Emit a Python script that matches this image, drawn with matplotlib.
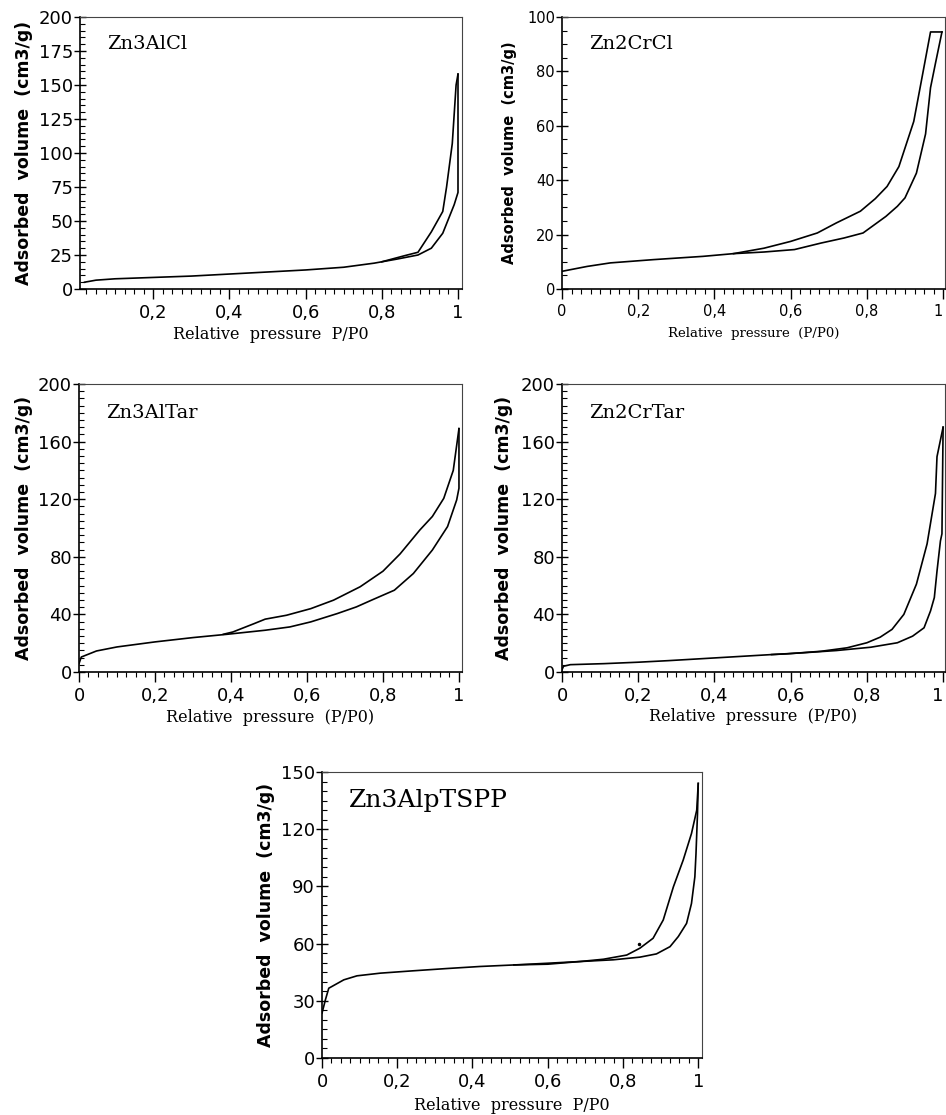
import matplotlib
matplotlib.use("Agg")
import matplotlib.pyplot as plt
from matplotlib.ticker import FixedLocator, MultipleLocator

# ---------------- data ----------------
# Zn3AlCl
alcl_ads_x = [0.02, 0.05, 0.1, 0.2, 0.3, 0.4, 0.5, 0.6, 0.7, 0.78, 0.84, 0.895, 0.93, 0.96, 0.99, 1.0, 1.0]
alcl_ads_y = [5, 6.5, 7.5, 8.5, 9.5, 11, 12.5, 14, 16, 19, 22, 25, 30, 41, 62, 71, 158]
alcl_des_x = [1.0, 0.995, 0.985, 0.97, 0.96, 0.93, 0.895, 0.86, 0.8]
alcl_des_y = [158, 150, 107, 75, 57, 42, 27, 24.5, 20]

# Zn2CrCl
crcl_ads_x = [0.0, 0.066, 0.127, 0.24, 0.37, 0.45, 0.53, 0.61, 0.68, 0.74, 0.79, 0.85, 0.88, 0.90, 0.93, 0.954, 0.967, 0.98, 0.997]
crcl_ads_y = [6.5, 8.3, 9.6, 10.8, 12, 13, 13.6, 14.5, 16.9, 18.75, 20.6, 26.7, 30.4, 33.5, 42.6, 57, 74, 83, 94.5]
crcl_des_x = [0.997, 0.967, 0.945, 0.923, 0.884, 0.853, 0.822, 0.783, 0.72, 0.67, 0.6, 0.53, 0.45]
crcl_des_y = [94.5, 94.5, 78, 61.6, 45, 37.7, 33.2, 28.6, 24.3, 20.6, 17.5, 15, 13]

# Zn3AlTar
altar_ads_x = [0.0, 0.006, 0.046, 0.1, 0.2, 0.3, 0.39, 0.49, 0.555, 0.61, 0.68, 0.73, 0.77, 0.83, 0.88, 0.93, 0.97, 0.994, 1.0, 1.0]
altar_ads_y = [5.8, 10.4, 14.6, 17.4, 20.9, 23.9, 26.2, 29, 31.3, 34.8, 40.6, 45.2, 49.9, 56.8, 68.4, 84.7, 101, 119.5, 127.6, 169]
altar_des_x = [1.0, 0.985, 0.96, 0.93, 0.897, 0.845, 0.80, 0.74, 0.67, 0.61, 0.546, 0.49, 0.46, 0.405, 0.38]
altar_des_y = [169, 140, 120.6, 108, 98.6, 82, 70, 59.2, 49.9, 44, 39.4, 36.7, 33.5, 27.8, 26.2]

# Zn2CrTar
crtar_ads_x = [0.0, 0.004, 0.022, 0.11, 0.2, 0.28, 0.37, 0.46, 0.55, 0.63, 0.72, 0.81, 0.88, 0.92, 0.95, 0.967, 0.977, 0.984, 0.993, 0.997, 1.0]
crtar_ads_y = [1.6, 4, 5.1, 5.8, 6.8, 7.9, 9.3, 10.7, 12.1, 13.3, 14.9, 17.2, 20.3, 24.9, 30.7, 42.4, 51.7, 70, 91, 96, 170]
crtar_des_x = [1.0, 0.984, 0.98, 0.958, 0.93, 0.897, 0.866, 0.835, 0.80, 0.748, 0.68, 0.59, 0.55]
crtar_des_y = [170, 149.5, 124, 89, 61, 40, 29.6, 24.2, 20.3, 16.8, 14.4, 12.6, 12.1]

# Zn3AlpTSPP
tspp_ads_x = [0.0, 0.009, 0.018, 0.058, 0.093, 0.155, 0.24, 0.33, 0.42, 0.51, 0.6, 0.686, 0.774, 0.845, 0.889, 0.925, 0.947, 0.969, 0.982, 0.991, 0.994, 0.998, 1.0]
tspp_ads_y = [23.5, 30.5, 36.6, 41, 43.1, 44.5, 45.7, 46.9, 48, 48.8, 49.7, 50.6, 51.5, 52.9, 54.6, 58.4, 63.7, 70.6, 81, 95, 107, 128, 144]
tspp_des_x = [1.0, 0.996, 0.982, 0.96, 0.934, 0.907, 0.88, 0.845, 0.81, 0.748, 0.686, 0.6, 0.51]
tspp_des_y = [144, 130, 117.7, 103.8, 89.8, 72.4, 62.8, 57.6, 54, 51.8, 50.6, 49.2, 48.8]
tspp_dot_x = [0.843]
tspp_dot_y = [59.8]

x_ticks = [0, 0.2, 0.4, 0.6, 0.8, 1.0]
x_ticklabels = ["0", "0,2", "0,4", "0,6", "0,8", "1"]

# ---------------- layout ----------------
W, H = 946, 1115
fig = plt.figure(figsize=(W / 100, H / 100), dpi=100)
fig.patch.set_facecolor("white")

SERIF = ["DejaVu Serif"]
SANS = ["DejaVu Sans"]


def make_ax(l, r, t, b):
    return fig.add_axes([l / W, 1 - b / H, (r - l) / W, (b - t) / H])


def style(ax, xlim, ylim, ymajor, yminor, name, name_size, xlabel, xlab_size,
          tick_size, ylab_size, ylab_x, xlab_y, edge=False):
    ax.set_xlim(*xlim)
    ax.set_ylim(*ylim)
    ax.xaxis.set_major_locator(FixedLocator(x_ticks))
    ax.set_xticklabels(x_ticklabels)
    ax.xaxis.set_minor_locator(MultipleLocator(0.025))
    ax.yaxis.set_major_locator(MultipleLocator(ymajor))
    ax.yaxis.set_minor_locator(MultipleLocator(yminor))
    ax.tick_params(axis="x", which="major", direction="out", length=7, width=1.0,
                   labelsize=tick_size, pad=4)
    ax.tick_params(axis="x", which="minor", direction="out", length=3.5, width=0.8)
    ax.tick_params(axis="y", which="major", direction="inout", length=8, width=1.0,
                   labelsize=tick_size, pad=1)
    ax.tick_params(axis="y", which="minor", direction="in", length=3.5, width=0.8)
    for lab in ax.get_xticklabels() + ax.get_yticklabels():
        lab.set_family(SANS)
    if edge:
        ax.get_xticklabels()[-1].set_horizontalalignment("right")
    for s in ["left", "bottom"]:
        ax.spines[s].set_linewidth(1.2)
    for s in ["top", "right"]:
        ax.spines[s].set_linewidth(0.8)
        ax.spines[s].set_color("#444444")
    ax.text(0.07, 0.90, name, transform=ax.transAxes, family=SERIF,
            fontsize=name_size, ha="left", va="center")
    ax.set_xlabel(xlabel, family=SERIF, fontsize=xlab_size)
    ax.xaxis.set_label_coords(0.5, xlab_y)
    ax.set_ylabel("Adsorbed  volume  (cm3/g)", family=SANS, fontsize=ylab_size,
                  fontweight="bold")
    ax.yaxis.set_label_coords(ylab_x, 0.5)


lw = 1.2

# Panel 1: Zn3AlCl
ax1 = make_ax(80, 462, 17, 289)
ax1.plot(alcl_ads_x, alcl_ads_y, color="black", lw=lw)
ax1.plot(alcl_des_x, alcl_des_y, color="black", lw=lw)
style(ax1, (0.008, 1.0105), (0, 200), 25, 5, "Zn3AlCl", 14,
      "Relative  pressure  P/P0", 11.5, 13, 12.5, -0.123, -0.135)

# Panel 2: Zn2CrCl
ax2 = make_ax(562, 945, 17, 289)
ax2.plot(crcl_ads_x, crcl_ads_y, color="black", lw=lw)
ax2.plot(crcl_des_x, crcl_des_y, color="black", lw=lw)
style(ax2, (0, 1.005), (0, 100), 20, 5, "Zn2CrCl", 14,
      "Relative  pressure  (P/P0)", 9.5, 10.5, 10.5, -0.118, -0.14, edge=True)

# Panel 3: Zn3AlTar
ax3 = make_ax(79, 462, 384, 672)
ax3.plot(altar_ads_x, altar_ads_y, color="black", lw=lw)
ax3.plot(altar_des_x, altar_des_y, color="black", lw=lw)
style(ax3, (0, 1.008), (0, 200), 40, 5, "Zn3AlTar", 14,
      "Relative  pressure  (P/P0)", 11.5, 13, 12.5, -0.12, -0.13)

# Panel 4: Zn2CrTar
ax4 = make_ax(562, 945, 384, 672)
ax4.plot(crtar_ads_x, crtar_ads_y, color="black", lw=lw)
ax4.plot(crtar_des_x, crtar_des_y, color="black", lw=lw)
style(ax4, (0, 1.005), (0, 200), 40, 5, "Zn2CrTar", 14,
      "Relative  pressure  (P/P0)", 11.5, 13, 12.5, -0.128, -0.125, edge=True)

# Panel 5: Zn3AlpTSPP
ax5 = make_ax(322, 702, 772, 1058)
ax5.plot(tspp_ads_x, tspp_ads_y, color="black", lw=lw)
ax5.plot(tspp_des_x, tspp_des_y, color="black", lw=lw)
ax5.plot(tspp_dot_x, tspp_dot_y, "o", color="black", ms=1.5)
style(ax5, (0, 1.01), (0, 150), 30, 5, "Zn3AlpTSPP", 18,
      "Relative  pressure  P/P0", 11.5, 13, 12.5, -0.124, -0.135)

fig.savefig("out.png", dpi=100, facecolor="white")
